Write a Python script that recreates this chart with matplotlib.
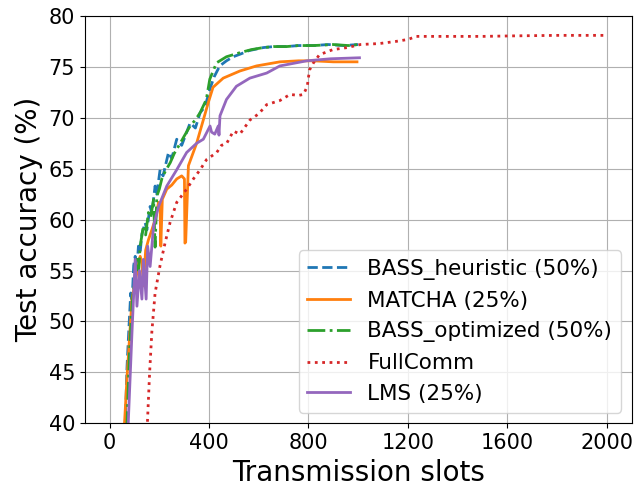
import numpy as np
import matplotlib
matplotlib.use("Agg")
import matplotlib.pyplot as plt

# values
heur_x = [0, 55, 63, 70, 78, 85, 90, 97, 103, 110, 116, 123, 130, 143, 150, 163, 170, 183, 190, 203,
          215, 237, 250, 270, 290, 324, 345, 364, 384, 403, 420, 443, 470, 497, 530, 560, 618, 660, 712, 760,
          820, 880, 940, 1000]
heur_y = [10, 15, 40, 45.5, 49.5, 52.8, 51.8, 55.5, 56.4, 55.2, 57.4, 56.8, 58.6, 59.7, 59.0, 61.3, 60.6, 63.3, 62.5, 64.9,
          64.3, 66.6, 66.0, 67.9, 67.3, 69.5, 69.0, 70.5, 71.1, 72.8, 74.0, 75.1, 75.6, 76.0, 76.3, 76.6, 76.9, 77.0, 77.0, 77.1,
          77.1, 77.2, 77.1, 77.2]

matcha_x = [0, 55, 60, 70, 80, 90, 100, 110, 123, 130, 136, 145, 156, 170, 183, 197, 203, 206, 212, 230,
            250, 270, 290, 301, 303, 306, 317, 335, 350, 377, 397, 416, 457, 524, 591, 685, 760, 820, 900, 995]
matcha_y = [10, 15, 40, 44.5, 48.3, 52.2, 53.5, 54.8, 56.4, 55.8, 53.5, 57.0, 58.0, 59.0, 60.0, 61.7, 61.2, 57.4, 62.0, 63.0,
            63.4, 64.0, 64.3, 64.0, 57.7, 57.8, 65.3, 66.5, 67.5, 69.8, 71.5, 73.0, 73.9, 74.6, 75.1, 75.5, 75.6, 75.6, 75.5, 75.5]

opt_x = [0, 60, 70, 80, 90, 100, 110, 117, 123, 136, 145, 156, 165, 177, 183, 190, 200, 210, 225, 244,
         260, 284, 300, 324, 345, 364, 389, 403, 430, 470, 524, 570, 618, 660, 712, 760, 820, 900, 960, 1000]
opt_y = [10, 15, 40, 47, 51.5, 54.0, 56.1, 55.0, 57.4, 59.4, 58.5, 60.7, 60.2, 62.0, 57.3, 62.3, 63.0, 64.0, 64.8, 65.6,
         66.5, 67.5, 68.2, 69.2, 69.8, 70.5, 71.8, 73.8, 75.4, 76.0, 76.4, 76.7, 76.9, 77.0, 77.0, 77.1, 77.1, 77.2, 77.1, 77.2]

full_x = [0, 140, 152, 161, 170, 183, 203, 223, 243, 270, 310, 337, 364, 390, 431, 450, 471, 498, 524, 565,
          600, 632, 685, 726, 760, 780, 795, 804, 820, 844, 898, 955, 1009, 1086, 1150, 1200, 1234, 1354, 1500, 1623,
          1800, 2000]
full_y = [10, 15, 40, 45, 49, 52.8, 55.5, 57.7, 59.7, 61.7, 63.0, 64.0, 64.9, 65.9, 66.6, 67.3, 67.5, 68.7, 68.4, 69.8,
          70.4, 71.3, 71.7, 72.3, 72.2, 72.3, 73.1, 74.7, 75.4, 76.2, 76.7, 76.9, 77.2, 77.3, 77.5, 77.7, 78.0, 78.0, 78.0, 78.05,
          78.1, 78.1]

lms_x = [0, 65, 75, 90, 103, 110, 120, 130, 136, 147, 153, 163, 177, 197, 230, 270, 310, 350, 377, 404,
         410, 423, 437, 440, 444, 470, 510, 564, 632, 685, 793, 888, 1005]
lms_y = [10, 15, 40, 48.9, 56.1, 51.5, 55.0, 52.2, 56.1, 52.2, 57.4, 55.4, 59.4, 61.3, 63.3, 64.9, 66.6, 67.5, 67.9, 69.2,
         68.6, 68.4, 69.2, 68.3, 70.2, 71.8, 73.1, 73.9, 74.4, 75.1, 75.6, 75.8, 75.9]


def main():
    fig, ax = plt.subplots(figsize=(6.39, 4.87), dpi=100)
    fig.subplots_adjust(left=0.1326, right=0.9886, top=0.9671, bottom=0.1308)

    ax.plot(heur_x, heur_y, '--', color='tab:blue', lw=2, label='BASS_heuristic (50%)')
    ax.plot(matcha_x, matcha_y, '-', color='tab:orange', lw=2, label='MATCHA (25%)')
    ax.plot(opt_x, opt_y, '-.', color='tab:green', lw=2, label='BASS_optimized (50%)')
    ax.plot(full_x, full_y, ':', color='tab:red', lw=2, label='FullComm')
    ax.plot(lms_x, lms_y, '-', color='tab:purple', lw=2, label='LMS (25%)')

    ax.set_ylim([40, 80])
    ax.set_xticks([0, 400, 800, 1200, 1600, 2000])
    ax.tick_params(labelsize=15)
    ax.set_xlabel('Transmission slots', fontsize=20)
    ax.set_ylabel('Test accuracy (%)', fontsize=20)
    ax.grid(True)
    ax.legend(loc='lower right', fontsize=15.5)
    plt.savefig('out.png', dpi=100)


if __name__ == "__main__":
    main()
